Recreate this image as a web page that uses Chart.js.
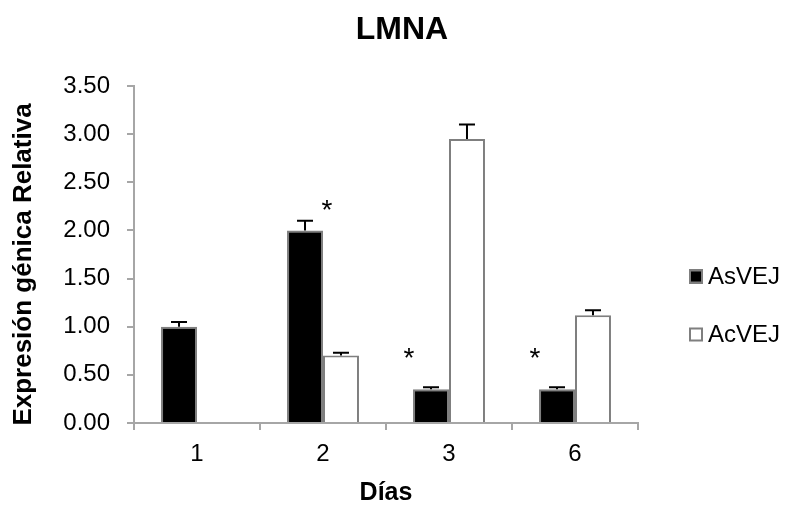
<!DOCTYPE html>
<html>
<head>
<meta charset="utf-8">
<script src="https://cdn.jsdelivr.net/npm/chart.js@4"></script>
<style>
  body { margin: 0; background: #fff; }
  #wrap { width: 788px; height: 508px; }
</style>
</head>
<body>
<div id="wrap"><canvas id="lmna"></canvas></div>
<script>
// datos
const dias = ['1', '2', '3', '6'];
const asVEJ = [1.00, 2.00, 0.35, 0.35];
const acVEJ = [null, 0.70, 2.95, 1.12];
const errAsVEJ = [0.05, 0.10, 0.02, 0.02];
const errAcVEJ = [null, 0.03, 0.15, 0.05];
// asteriscos (valor en eje y) por categoria
const asteriscos = [null, 2.24, 0.71, 0.71];

const FONT = "'Liberation Sans', Arial, sans-serif";

// barras de error + asteriscos
const errorBars = {
    id: 'errorBars',
    afterDatasetsDraw(chart) {
        const ctx = chart.ctx;
        const y = chart.scales.y;
        const errs = [errAsVEJ, errAcVEJ];
        ctx.save();
        ctx.strokeStyle = '#000';
        ctx.lineWidth = 2;
        errs.forEach((err, di) => {
            const meta = chart.getDatasetMeta(di);
            meta.data.forEach((bar, i) => {
                const v = chart.data.datasets[di].data[i];
                if (v == null || err[i] == null) return;
                const top = y.getPixelForValue(v + err[i]);
                ctx.beginPath();
                ctx.moveTo(bar.x, bar.y);
                ctx.lineTo(bar.x, top);
                ctx.moveTo(bar.x - 8, top);
                ctx.lineTo(bar.x + 8, top);
                ctx.stroke();
            });
        });
        // asteriscos
        ctx.fillStyle = '#000';
        ctx.font = '28px ' + FONT;
        ctx.textAlign = 'center';
        ctx.textBaseline = 'alphabetic';
        const x = chart.scales.x;
        asteriscos.forEach((v, i) => {
            if (v == null) return;
            const cx = x.getPixelForValue(i) + (i === 1 ? 4 : -40);
            ctx.fillText('*', cx, y.getPixelForValue(v) + 12);
        });
        ctx.restore();
    }
};

// titulo, titulo del eje y y leyenda
const textos = {
    id: 'textos',
    afterDraw(chart) {
        const ctx = chart.ctx;
        const a = chart.chartArea;
        const mid = (a.top + a.bottom) / 2;
        ctx.save();
        ctx.fillStyle = '#000';
        ctx.textBaseline = 'middle';
        ctx.textAlign = 'center';
        ctx.font = 'bold 32px ' + FONT;
        ctx.fillText('LMNA', chart.width / 2 + 8, 30);

        ctx.save();
        ctx.translate(24, mid + 10);
        ctx.rotate(-Math.PI / 2);
        ctx.font = 'bold 26px ' + FONT;
        ctx.fillText('Expresión génica Relativa', 0, 0);
        ctx.restore();

        ctx.font = '24px ' + FONT;
        ctx.textAlign = 'left';
        chart.data.datasets.forEach((ds, i) => {
            const cy = mid + 22 + i * 58;
            const bx = a.right + 51;
            ctx.fillStyle = ds.backgroundColor;
            ctx.fillRect(bx, cy - 7, 14, 14);
            ctx.strokeStyle = '#7f7f7f';
            ctx.lineWidth = 2;
            ctx.strokeRect(bx + 1, cy - 6, 12, 12);
            ctx.fillStyle = '#000';
            ctx.fillText(ds.label, bx + 19, cy + 1);
        });
        ctx.restore();
    }
};

new Chart(document.getElementById('lmna'), {
    type: 'bar',
    data: {
        labels: dias,
        datasets: [{
            label: 'AsVEJ',
            data: asVEJ,
            backgroundColor: '#000000',
            borderColor: '#7f7f7f',
            borderWidth: 2
        }, {
            label: 'AcVEJ',
            data: acVEJ,
            backgroundColor: '#ffffff',
            borderColor: '#7f7f7f',
            borderWidth: 2
        }]
    },
    options: {
        responsive: true,
        maintainAspectRatio: false,
        animation: false,
        categoryPercentage: 0.571,
        barPercentage: 1.0,
        layout: { padding: { left: 0, right: 150, top: 86, bottom: 0 } },
        plugins: {
            legend: { display: false },
            tooltip: { enabled: false },
            title: { display: false }
        },
        scales: {
            x: {
                afterFit: (s) => { s.height = 85; },
                grid: { drawOnChartArea: false, color: '#a6a6a6', tickLength: 7, lineWidth: 2 },
                border: { color: '#a6a6a6', width: 2 },
                ticks: { color: '#000', font: { family: FONT, size: 24 }, padding: 10 },
                title: {
                    display: true,
                    text: 'Días',
                    color: '#000',
                    font: { family: FONT, size: 25, weight: 'bold' },
                    padding: { top: 0, bottom: 0 }
                }
            },
            y: {
                min: 0,
                max: 3.5,
                afterFit: (s) => { s.width = 134; },
                grid: { drawOnChartArea: false, color: '#a6a6a6', tickLength: 7, lineWidth: 2 },
                border: { color: '#a6a6a6', width: 2 },
                ticks: {
                    stepSize: 0.5,
                    color: '#000',
                    font: { family: FONT, size: 24 },
                    padding: 17,
                    callback: (v) => v.toFixed(2)
                }
            }
        }
    },
    plugins: [errorBars, textos]
});
</script>
</body>
</html>
